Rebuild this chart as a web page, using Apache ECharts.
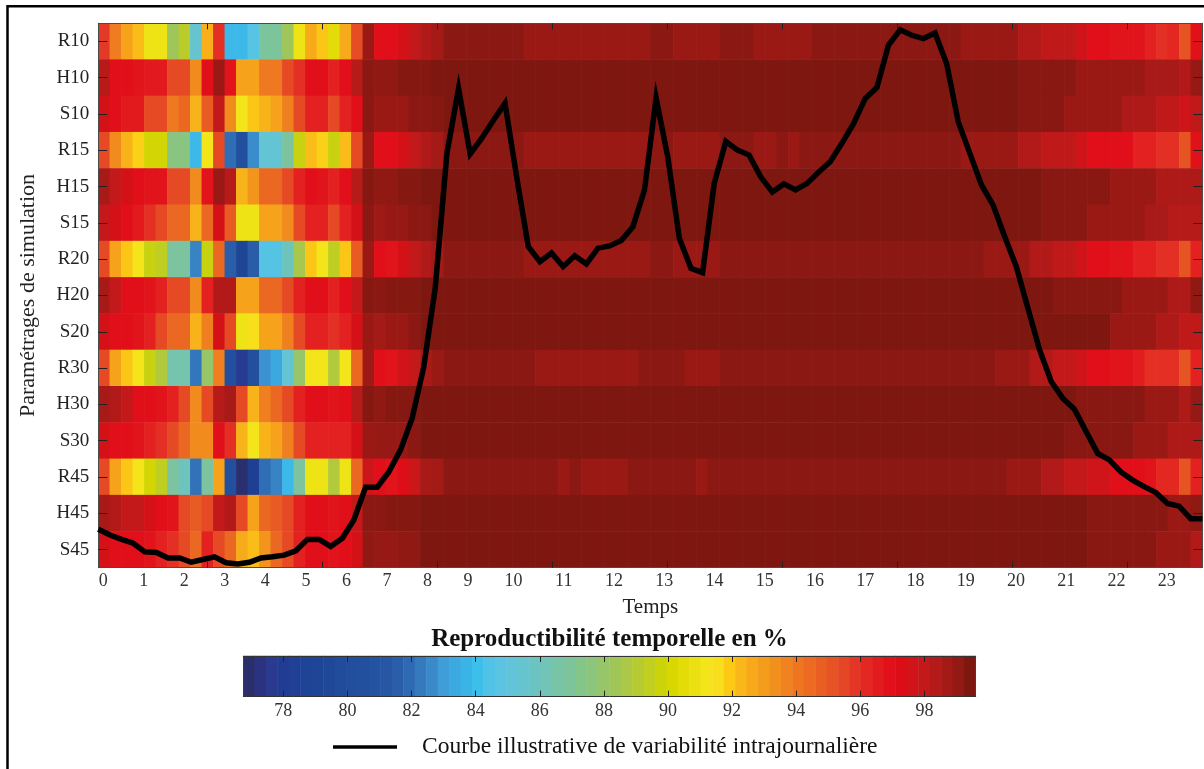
<!DOCTYPE html>
<html><head><meta charset="utf-8">
<script src="https://cdn.jsdelivr.net/npm/echarts@6/dist/echarts.min.js"></script>
<style>html,body{margin:0;padding:0;background:#fff}#chart{width:1204px;height:769px}</style>
</head><body><div id="chart"></div>
<script>
// ---------- data ----------
const ROWS = ['R10','H10','S10','R15','H15','S15','R20','H20','S20','R30','H30','S30','R45','H45','S45'];
const X_LABELS = ['0','1','2','3','4','5','6','7','8','9','10','11','12','13','14','15','16','17','18','19','20','21','22','23'];
const X_TICKS = [10,20,30,40,50,60,70,80,90];
const CBAR_TICKS = [78,80,82,84,86,88,90,92,94,96,98];
const LEGEND_NAME = 'Courbe illustrative de variabilité intrajournalière';
const CBAR_TITLE = 'Reproductibilité temporelle en %';
const CMAP = [
'#2a2f6b','#2b3380','#2a3a8f','#213c93','#1f4095','#1f4397','#1f4597','#204898',
'#214b9b','#224e9d','#22509f','#2453a1','#2757a4','#2a5ea8','#2e6ab3','#347abd',
'#3a89c8','#3f9dd8','#3caae1','#3ab3e6','#3dbfeb','#50c2e6','#5bc4e2','#61c4d8',
'#66c4cf','#6bc4c2','#71c4b6','#77c4a7','#7dc49a','#84c589','#8cc57c','#97c56a',
'#a1c658','#abc947','#b6cb31','#c0cf20','#cbd30b','#d8d800','#e3dc08','#ebe112',
'#f3e51a','#f8de1c','#fcca15','#fab719','#f7a91b','#f49c1c','#f2901e','#f0831f',
'#ee7621','#ec6a22','#e95f23','#e75324','#e54625','#e43626','#e32722','#e21b1e',
'#e1101a','#dc0d16','#d1141a','#c3191b','#b31a19','#a31a17','#931914','#7f1711'];
const CMAP_MIN = 76.93, CMAP_MAX = 99.43;
const CBAR_MIN = 76.75, CBAR_MAX = 99.6;

const R10 = [95.8,93.9,92.8,92.2,91,91,88.3,89.2,85.5,92.5,96,83.9,83.9,84.7,86.9,86.9,88.3,91,92.6,92,90.5,92.6,95.3,98.9,
97,97,97.5,98,98.4,98.7,
99.2,99.2,99.2,99.2,99.2,99.2,99.2,
98.9,98.9,98.9,98.9,98.9,98.9,98.9,98.9,98.9,98.9,98.9,
99.2,99.2,98.9,98.9,98.9,98.9,99.2,99.2,99.2,
98.9,98.9,98.9,98.9,98.9,
99.2,99.2,99.2,99.2,99.2,99.2,99.2,99.2,99.2,99.2,99.2,99.2,99.2,
98.9,98.9,98.9,98.9,98.9,
98.4,98.4,98.1,98.1,98.1,97.7,97,97,96.8,96.8,96.8,96.4,96,96.2,95.1,96.9];
const H10 = [98.3,97,97,96.8,96.6,96.6,95.4,95.4,93.5,97,98.9,96.8,92.8,92.8,94,94,95.4,96,97,97,96.4,97,98.3,99.2,
99.1,99.1,99.3,99.3,99.3,
99.55,99.55,99.55,99.55,99.55,99.55,99.55,99.55,99.55,99.55,
99.55,99.55,99.55,99.55,99.55,99.55,99.55,99.55,99.55,99.55,
99.55,99.55,99.55,99.55,99.55,99.55,99.55,99.55,99.55,99.55,
99.55,99.55,99.55,99.55,99.55,99.55,99.55,99.55,99.55,99.55,
99.55,99.55,99.55,99.55,99.55,99.55,99.55,99.55,99.55,99.55,
99.55,
99.25,99.25,99.25,99.25,99.25,98.9,98.9,98.9,98.9,98.9,98.9,98.6,98.6,98.6,98.4,99];
const S10 = [97.5,97,96.6,96.6,95.4,95.4,94,94.5,92.4,94.9,98,93.5,91.2,92,92.4,92.8,93.8,95.4,96.4,96.4,95.4,96.4,97,99.2,
98.9,98.9,98.9,99.2,99.2,99.3,
99.55,99.55,99.55,99.55,99.55,99.55,99.55,99.55,99.55,99.55,
99.55,99.55,99.55,99.55,99.55,99.55,99.55,99.55,99.55,99.55,
99.55,99.55,99.55,99.55,99.55,99.55,99.55,99.55,99.55,99.55,
99.55,99.55,99.55,99.55,99.55,99.55,99.55,99.55,99.55,99.55,
99.55,99.55,99.55,99.55,99.55,99.55,99.55,99.55,99.55,99.55,
99.25,99.25,99.25,99.25,98.9,98.9,98.9,98.9,98.9,98.5,98.5,98.5,98.1,98.1,97.7,98.1];
const R15 = [95.4,93.5,92.4,91.8,90,90,87.5,87.5,83.9,91.2,95.4,82,80.5,82.7,85.3,85.3,86.8,89.7,92.2,91.8,89.7,92.2,95.4,98.9,
97,97,97.5,98,98.4,98.7,
99.2,99.2,99.2,99.2,99.2,99.2,99.2,
98.9,98.9,98.9,98.9,98.9,98.9,98.9,98.9,98.9,98.9,98.9,
99.2,99.2,98.9,98.9,98.9,98.9,99.2,99.2,99.2,
98.9,98.9,99.2,98.9,
99.2,99.2,99.2,99.2,99.2,99.2,99.2,99.2,99.2,99.2,99.2,99.2,99.2,99.2,
98.9,98.9,98.9,98.9,98.9,
98.4,98.4,98.1,98.1,98.1,97.7,97,97,97,97,96.4,96.4,96,96,95.1,96.9];
const H15 = [98.6,98,97.5,97,96.8,96.8,95.4,95.4,93.5,96.8,98.9,98.3,92.4,93.2,94.5,94.5,95.4,96.4,97,96.8,96.4,97,98.3,99.3,
99.1,99.1,99.3,99.3,
99.55,99.55,99.55,99.55,99.55,99.55,99.55,99.55,99.55,99.55,
99.55,99.55,99.55,99.55,99.55,99.55,99.55,99.55,99.55,99.55,
99.55,99.55,99.55,99.55,99.55,99.55,99.55,99.55,99.55,99.55,
99.55,99.55,99.55,99.55,99.55,99.55,99.55,99.55,99.55,99.55,
99.55,99.55,99.55,99.55,99.55,99.55,99.55,99.55,99.55,99.55,
99.55,99.55,99.55,99.55,
99.25,99.25,99.25,99.25,99.25,99.25,98.9,98.9,98.9,98.9,98.5,98.5,98.5,98.5];
const S15 = [98,97.5,97,96.6,96,95.4,94.5,94.5,92.4,94.5,97.5,94.9,91,91,92.8,92.8,93.5,95.4,96.4,96.4,95.4,96.4,97.5,99.2,
98.8,99,99,99.2,99.2,
99.55,99.55,99.55,99.55,99.55,99.55,99.55,99.55,99.55,99.55,
99.55,99.55,99.55,99.55,99.55,99.55,99.55,99.55,99.55,99.55,
99.55,99.55,99.55,99.55,99.55,99.55,99.55,99.55,99.55,99.55,
99.55,99.55,99.55,99.55,99.55,99.55,99.55,99.55,99.55,99.55,
99.55,99.55,99.55,99.55,99.55,99.55,99.55,99.55,99.55,99.55,
99.55,99.55,99.55,
99.25,99.25,99.25,99.25,98.9,98.9,98.9,98.9,98.9,98.6,98.6,98.3,98.3,98.3];
const R20 = [95.4,92.8,92,91.2,89.7,89.4,86.8,86.8,82.5,89.7,94.5,81.5,79,81.5,84.6,84.6,86,88.6,92,91.2,89.4,92,94.9,98.9,
97,96.8,97.5,98,98.4,98.7,
99.2,99.2,99.2,99.2,99.2,99.2,99.2,
98.9,98.9,98.9,98.9,98.9,98.9,98.9,98.9,98.9,98.9,98.9,
99.2,99.2,98.9,98.9,98.9,98.9,
99.2,99.2,99.2,99.2,99.2,99.2,99.2,99.2,99.2,99.2,99.2,99.2,99.2,99.2,99.2,99.2,99.2,99.2,99.2,99.2,99.2,99.2,99.2,
98.9,98.9,98.9,98.9,
98.4,98.4,98.1,98.1,97.7,97,97,96.8,96.8,96.4,96.4,96,96,95.1,96.4];
const H20 = [98.6,98,97,97,96.8,96.4,95.4,95.4,93.5,96.4,98.4,98.4,92.8,92.8,94.5,94.5,95.4,96.4,97,97,96.4,97,98,99.3,
99.2,99.3,99.3,99.3,
99.55,99.55,99.55,99.55,99.55,99.55,99.55,99.55,99.55,99.55,
99.55,99.55,99.55,99.55,99.55,99.55,99.55,99.55,99.55,99.55,
99.55,99.55,99.55,99.55,99.55,99.55,99.55,99.55,99.55,99.55,
99.55,99.55,99.55,99.55,99.55,99.55,99.55,99.55,99.55,99.55,
99.55,99.55,99.55,99.55,99.55,99.55,99.55,99.55,99.55,99.55,
99.55,99.55,99.55,99.55,99.55,
99.25,99.25,99.25,99.25,99.25,99.25,98.9,98.9,98.9,98.9,98.5,98.5,99.1];
const S20 = [97.5,97,97,96.8,96.4,95.4,94.5,94.5,92.4,93.8,97.5,95.4,91,91.5,92.8,92.8,93.8,95.4,96.4,96.4,96,96.4,97.5,98.9,
98.7,98.9,98.9,99.2,
99.55,99.55,99.55,99.55,99.55,99.55,99.55,99.55,99.55,99.55,
99.55,99.55,99.55,99.55,99.55,99.55,99.55,99.55,99.55,99.55,
99.55,99.55,99.55,99.55,99.55,99.55,99.55,99.55,99.55,99.55,
99.55,99.55,99.55,99.55,99.55,99.55,99.55,99.55,99.55,99.55,
99.55,99.55,99.55,99.55,99.55,99.55,99.55,99.55,99.55,99.55,
99.55,99.55,99.55,99.55,99.55,99.55,99.55,99.55,99.55,99.55,
98.9,98.9,98.9,98.9,98.5,98.5,98.1,98.1];
const R30 = [95.4,92.8,92,91.2,89.7,88.9,86.4,86.4,82.2,88,93.8,80.5,77.8,80.3,82.8,83.3,85.3,88,91.2,91.2,88.9,91.2,94.5,98.8,
97,96.8,97.6,98,98.6,98.9,
99.2,99.2,99.2,99.2,99.2,99.2,99.2,99.2,
98.9,98.9,98.9,98.9,98.9,98.9,98.9,98.9,98.9,
99.2,99.2,99.2,99.2,98.9,98.9,98.9,
99.2,99.2,99.2,99.2,99.2,99.2,99.2,99.2,99.2,99.2,99.2,99.2,99.2,99.2,99.2,99.2,99.2,99.2,99.2,99.2,99.2,99.2,99.2,99.2,
98.9,98.9,98.9,
98.4,98.4,98,98,97.7,97,97,96.8,96.8,96.5,96,96,96,95.1,96.4];
const H30 = [98.6,98.4,98,97,97,96.8,96.4,95.4,93.5,95.4,98.3,98.6,95.4,92.4,93.8,94.5,95.4,96.4,97,97,96.8,97,98.3,99.3,
99.1,99.3,99.3,99.3,
99.55,99.55,99.55,99.55,99.55,99.55,99.55,99.55,99.55,99.55,
99.55,99.55,99.55,99.55,99.55,99.55,99.55,99.55,99.55,99.55,
99.55,99.55,99.55,99.55,99.55,99.55,99.55,99.55,99.55,99.55,
99.55,99.55,99.55,99.55,99.55,99.55,99.55,99.55,99.55,99.55,
99.55,99.55,99.55,99.55,99.55,99.55,99.55,99.55,99.55,99.55,
99.55,99.55,99.55,99.55,99.55,99.55,99.55,
99.25,99.25,99.25,99.25,99.25,99.25,98.9,98.9,98.9,98.5,99];
const S30 = [97.5,97,97,96.8,96.4,96,95.4,94.5,93.5,93.5,97,96,92.4,91.2,92.4,92.8,93.8,95.4,96.4,96.4,96.4,96.4,97.5,98.9,
99,99,99,99.2,
99.55,99.55,99.55,99.55,99.55,99.55,99.55,99.55,99.55,99.55,
99.55,99.55,99.55,99.55,99.55,99.55,99.55,99.55,99.55,99.55,
99.55,99.55,99.55,99.55,99.55,99.55,99.55,99.55,99.55,99.55,
99.55,99.55,99.55,99.55,99.55,99.55,99.55,99.55,99.55,99.55,
99.55,99.55,99.55,99.55,99.55,99.55,99.55,99.55,99.55,99.55,
99.55,99.55,99.55,99.55,99.55,99.55,
99.25,99.25,99.25,99.25,99.25,99.25,98.9,98.9,98.9,98.5,98.5,98.5];
const R45 = [95.4,92.8,92,91.2,90,89.4,86.8,86,82.1,86.8,92.8,80.4,77,78.3,82,82.5,83.9,86.8,91,91,88.9,91,94.5,97.8,
97,96.8,97.2,97.8,98.6,98.7,
99.2,99.2,99.2,99.2,99.2,99.2,99.2,99.2,99.2,99.2,
98.9,99.2,98.9,98.9,98.9,98.9,
99.2,99.2,99.2,99.2,99.2,99.2,98.9,
99.2,99.2,99.2,99.2,99.2,99.2,99.2,99.2,99.2,99.2,99.2,99.2,99.2,99.2,99.2,99.2,99.2,99.2,99.2,99.2,99.2,99.2,99.2,99.2,99.2,99.2,
98.9,98.9,98.9,
98.4,98.4,98,98,97.7,97.7,97,97,97,96.8,96.2,96.2,95.1,96.4];
const H45 = [98.6,98.4,98,98,97.5,97,96.8,95.4,94.9,95.4,98,98.4,95.4,92.8,94.5,94.9,95.4,96.4,97,97,96.8,97,98,99.2,
99.2,99.3,99.3,99.3,
99.55,99.55,99.55,99.55,99.55,99.55,99.55,99.55,99.55,99.55,
99.55,99.55,99.55,99.55,99.55,99.55,99.55,99.55,99.55,99.55,
99.55,99.55,99.55,99.55,99.55,99.55,99.55,99.55,99.55,99.55,
99.55,99.55,99.55,99.55,99.55,99.55,99.55,99.55,99.55,99.55,
99.55,99.55,99.55,99.55,99.55,99.55,99.55,99.55,99.55,99.55,
99.55,99.55,99.55,99.55,99.55,99.55,99.55,99.55,
99.25,99.25,99.25,99.25,99.25,99.25,99.25,98.9,98.9,99.1];
const S45 = [97.5,97,97,97,96.8,96.4,96,95.4,94.5,96.4,95.4,94.5,92.6,92.2,93.2,94.5,95.4,96.4,97,97,96.8,97,97.5,99.1,
99,99,99.1,99.1,
99.55,99.55,99.55,99.55,99.55,99.55,99.55,99.55,99.55,99.55,
99.55,99.55,99.55,99.55,99.55,99.55,99.55,99.55,99.55,99.55,
99.55,99.55,99.55,99.55,99.55,99.55,99.55,99.55,99.55,99.55,
99.55,99.55,99.55,99.55,99.55,99.55,99.55,99.55,99.55,99.55,
99.55,99.55,99.55,99.55,99.55,99.55,99.55,99.55,99.55,99.55,
99.55,99.55,99.55,99.55,99.55,99.55,99.55,99.55,
99.25,99.25,99.25,99.25,99.25,99.25,98.9,98.9,98.9,98.4];

// illustrative intraday curve (arbitrary units, 0 = bottom of plot, 100 = top)
const CURVE = [7.05,6.0,5.2,4.5,2.9,2.8,1.8,1.8,1.0,1.5,2.0,0.9,0.7,1.0,1.8,2.0,2.3,3.1,5.2,5.2,3.9,5.4,8.8,14.8,
14.8,17.6,21.6,27.4,36.8,51.5,76.1,88.0,76.0,78.9,82.2,85.3,71.8,59.0,56.2,57.8,55.3,57.3,55.8,58.7,
59.1,60.1,62.6,69.4,86.3,75.5,60.5,55.0,54.2,70.6,78.3,76.7,75.8,71.8,69.0,70.5,69.4,70.6,72.7,74.6,
78.0,81.6,86.2,88.2,96.0,98.8,97.8,97.2,98.2,92.6,81.9,76.1,70.3,66.6,60.8,55.3,47.6,40.0,34.2,31.1,
29.1,25.0,21.0,19.8,17.6,16.1,14.9,13.8,11.8,11.3,9.0,9.0];

// ---------- build ----------
const FONT = 'Liberation Serif';
const AXIS_C = '#4a4a4a';
const HEAT_ROWS = [R10,H10,S10,R15,H15,S15,R20,H20,S20,R30,H30,S30,R45,H45,S45];
const heatData = [];
HEAT_ROWS.forEach((row, r) => row.forEach((v, c) => heatData.push([c, r, v])));
const cols = HEAT_ROWS[0].map((_, i) => String(i));
const curveData = CURVE.map((v, i) => [i, v]);
const cbarCats = CMAP.map((_, i) => String(i));
const cbarData = CMAP.map((_, i) => [i, 0, CMAP_MIN + i * (CMAP_MAX - CMAP_MIN) / (CMAP.length - 1)]);

// x labels were typed as a spaced text line under the axis: place them by their text widths
const DIGIT = 0.843, GAP = 2.683; // in column units
const labelPos = [];
let cursor = 0.5;
X_LABELS.forEach(t => { labelPos.push(cursor + t.length * DIGIT / 2); cursor += t.length * DIGIT + GAP; });
function labelFor(v) {
  let best = 0, d = 1e9;
  labelPos.forEach((p, i) => { const dd = Math.abs(p - v); if (dd < d) { d = dd; best = i; } });
  return X_LABELS[best];
}

const chart = echarts.init(document.getElementById('chart'), null, {renderer: 'canvas'});
chart.setOption({
  animation: false,
  backgroundColor: '#fff',
  textStyle: {fontFamily: FONT},
  grid: [
    {left: 98.3, top: 23.3, width: 1104, height: 544.4, outerBoundsMode: 'none', containLabel: false},
    {left: 243.3, top: 656, width: 732.4, height: 40.7, outerBoundsMode: 'none', containLabel: false}
  ],
  xAxis: [
    {type: 'category', gridIndex: 0, position: 'bottom', data: cols, show: false},
    {type: 'value', gridIndex: 0, position: 'bottom', min: 0.5, max: 96.5, z: 4, splitLine: {show: false},
     axisLine: {show: true, onZero: false, lineStyle: {color: AXIS_C, width: 1}},
     axisTick: {show: true, inside: true, length: 6, customValues: X_TICKS, lineStyle: {color: '#222'}},
     axisLabel: {show: true, customValues: labelPos, formatter: labelFor, fontFamily: FONT, fontSize: 18, color: '#333', margin: 5},
     name: 'Temps', nameLocation: 'middle', nameGap: 29, nameMoveOverlap: false,
     nameTextStyle: {fontFamily: FONT, fontSize: 21, color: '#222'}},
    {type: 'value', gridIndex: 0, position: 'top', min: 0.5, max: 96.5, z: 4, splitLine: {show: false},
     axisLine: {show: true, onZero: false, lineStyle: {color: AXIS_C, width: 1}},
     axisTick: {show: true, inside: true, length: 6, customValues: X_TICKS, lineStyle: {color: '#222'}},
     axisLabel: {show: false}},
    {type: 'value', gridIndex: 0, position: 'top', min: 0, max: 95, show: false, axisLine: {onZero: false}},
    {type: 'category', gridIndex: 1, position: 'bottom', data: cbarCats, show: false},
    {type: 'value', gridIndex: 1, position: 'bottom', min: CBAR_MIN, max: CBAR_MAX, z: 4, splitLine: {show: false},
     axisLine: {show: true, onZero: false, lineStyle: {color: '#333', width: 1}},
     axisTick: {show: true, inside: true, length: 6, customValues: CBAR_TICKS, lineStyle: {color: '#222'}},
     axisLabel: {show: true, customValues: CBAR_TICKS, fontFamily: FONT, fontSize: 18, color: '#333', margin: 6}},
    {type: 'value', gridIndex: 1, position: 'top', min: CBAR_MIN, max: CBAR_MAX, z: 4, splitLine: {show: false},
     axisLine: {show: true, onZero: false, lineStyle: {color: '#333', width: 1}},
     axisTick: {show: true, inside: true, length: 6, customValues: CBAR_TICKS, lineStyle: {color: '#222'}},
     axisLabel: {show: false},
     name: CBAR_TITLE, nameLocation: 'middle', nameGap: 4, nameMoveOverlap: false,
     nameTextStyle: {fontFamily: FONT, fontSize: 25, fontWeight: 'bold', color: '#111'}}
  ],
  yAxis: [
    {type: 'category', gridIndex: 0, position: 'left', data: ROWS, inverse: true, z: 4,
     axisLine: {show: true, onZero: false, lineStyle: {color: AXIS_C, width: 1}},
     axisTick: {show: true, inside: true, alignWithLabel: true, length: 9, lineStyle: {color: '#222'}},
     axisLabel: {fontFamily: FONT, fontSize: 19, color: '#222', margin: 9},
     name: 'Paramétrages de simulation', nameLocation: 'middle', nameGap: 59, nameMoveOverlap: false,
     nameTextStyle: {fontFamily: FONT, fontSize: 22, color: '#222'}},
    {type: 'category', gridIndex: 0, position: 'right', data: ROWS, inverse: true, z: 4,
     axisLine: {show: true, onZero: false, lineStyle: {color: AXIS_C, width: 1}},
     axisTick: {show: true, inside: true, alignWithLabel: true, length: 9, lineStyle: {color: '#222'}},
     axisLabel: {show: false}},
    {type: 'value', gridIndex: 0, position: 'right', min: 0, max: 100, show: false, axisLine: {onZero: false}},
    {type: 'category', gridIndex: 1, data: [''], show: false}
  ],
  visualMap: {type: 'continuous', show: false, min: CMAP_MIN, max: CMAP_MAX, dimension: 2,
    seriesIndex: [0, 2], inRange: {color: CMAP}},
  legend: {data: [{name: LEGEND_NAME, icon: 'rect'}], left: 333, top: 735, padding: 0,
    itemWidth: 64, itemHeight: 3.5, itemStyle: {color: '#000', borderWidth: 0},
    textStyle: {fontFamily: FONT, fontSize: 23.5, color: '#111', padding: [0, 0, 0, 20]}},
  graphic: [
    {type: 'rect', silent: true, z: 100, shape: {x: 7.5, y: 6.3, width: 1300, height: 900},
     style: {fill: 'none', stroke: '#000', lineWidth: 2.5}}
  ],
  series: [
    {type: 'heatmap', xAxisIndex: 0, yAxisIndex: 0, data: heatData, progressive: 0,
     emphasis: {disabled: true}},
    {type: 'line', name: LEGEND_NAME, xAxisIndex: 3, yAxisIndex: 2, data: curveData, symbol: 'none',
     clip: false, z: 5, itemStyle: {color: '#000'},
     lineStyle: {color: '#000', width: 5.5, join: 'miter', cap: 'butt', miterLimit: 10}},
    {type: 'heatmap', xAxisIndex: 4, yAxisIndex: 3, data: cbarData, progressive: 0,
     emphasis: {disabled: true}}
  ]
});
</script></body></html>
